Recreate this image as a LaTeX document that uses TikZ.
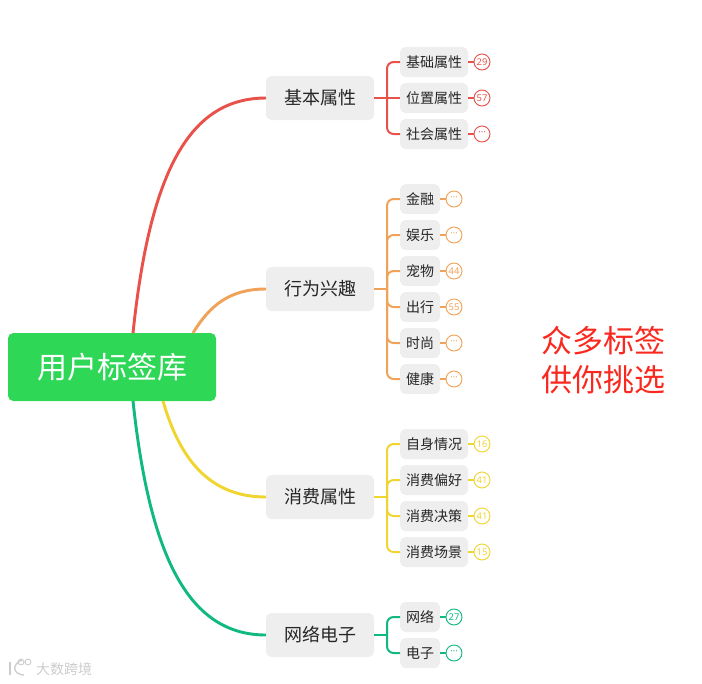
\documentclass[tikz,border=0pt]{standalone}
\usepackage{fontspec}
\setmainfont{Noto Sans CJK SC}
\newfontfamily\badgefont{Noto Sans}
\usetikzlibrary{positioning}
\definecolor{mapred}{HTML}{E8524A}
\definecolor{maporange}{HTML}{F0A358}
\definecolor{mapyellow}{HTML}{F0D531}
\definecolor{mapgreen}{HTML}{10B97F}
\definecolor{mapleaf}{HTML}{EEEEEE}
\definecolor{maproot}{HTML}{2ED755}
\definecolor{mapnote}{HTML}{F9291F}
\begin{document}
\begin{tikzpicture}[x=0.75pt,y=-0.75pt,node distance=4.5pt,outer sep=0pt,
    rootbox/.style={fill=maproot,text=white,rounded corners=4pt,minimum width=156pt,minimum height=51pt,font=\fontsize{22.5}{26}\selectfont},
    mid/.style={fill=mapleaf,rounded corners=4pt,minimum width=81pt,minimum height=33pt,inner sep=0pt,text=black!85,font=\fontsize{13.5}{16}\selectfont},
    leaf/.style={fill=mapleaf,rounded corners=4pt,minimum height=22.5pt,inner xsep=4.5pt,inner ysep=0pt,text=black!85,font=\fontsize{10.5}{12}\selectfont},
    under/.style={below=of #1.south west,anchor=north west},
    badge/.style={circle,draw=#1,fill=white,text=#1,line width=0.7pt,minimum size=12pt,inner sep=0pt,font=\badgefont\fontsize{7}{8}\selectfont},
    curve/.style={line width=2.2pt,#1},
    twig/.style={line width=1.5pt,rounded corners=5pt,#1}]
    \useasboundingbox (0,0) rectangle (702,683);
    % root and its four exits
    \node[rootbox] (root) at (112,367) {用户标签库};
    \coordinate (ra) at (133,333);
    \coordinate (rb) at (193,333);
    \coordinate (rc) at (163,401);
    \coordinate (rd) at (133,401);
    \node[mid] (ma) at (320,98) {基本属性};
    \node[mid] (mb) at (320,289) {行为兴趣};
    \node[mid] (mc) at (320,497) {消费属性};
    \node[mid] (md) at (320,635) {网络电子};
    \draw[curve=mapred] (ra) .. controls (150,170) and (190,98) .. (ma.west);
    \draw[curve=maporange] (rb) .. controls (210,305) and (230,289) .. (mb.west);
    \draw[curve=mapyellow] (rc) .. controls (180,460) and (210,497) .. (mc.west);
    \draw[curve=mapgreen] (rd) .. controls (150,560) and (190,635) .. (md.west);
    % first group
    \node[leaf,anchor=west] (a1) at (400,62) {基础属性};
    \node[leaf,under=a1] (a2) {位置属性};
    \node[leaf,under=a2] (a3) {社会属性};
    \node[badge=mapred,right=of a1] (ba1) {29};
    \node[badge=mapred,right=of a2] (ba2) {57};
    \node[badge=mapred,right=of a3] (ba3) {···};
    \coordinate (ta) at (387,98);
    \draw[twig=mapred] (ma)--(a2);
    \draw[twig=mapred] (ta)|-(a1); \draw[twig=mapred] (ta)|-(a3);
    \draw[twig=mapred] (a1)--(ba1); \draw[twig=mapred] (a2)--(ba2); \draw[twig=mapred] (a3)--(ba3);
    % second group
    \node[leaf,anchor=west] (b1) at (400,199) {金融};
    \node[leaf,under=b1] (b2) {娱乐};
    \node[leaf,under=b2] (b3) {宠物};
    \node[leaf,under=b3] (b4) {出行};
    \node[leaf,under=b4] (b5) {时尚};
    \node[leaf,under=b5] (b6) {健康};
    \node[badge=maporange,right=of b1] (bb1) {···};
    \node[badge=maporange,right=of b2] (bb2) {···};
    \node[badge=maporange,right=of b3] (bb3) {44};
    \node[badge=maporange,right=of b4] (bb4) {55};
    \node[badge=maporange,right=of b5] (bb5) {···};
    \node[badge=maporange,right=of b6] (bb6) {···};
    \coordinate (tb) at (387,289);
    \draw[twig=maporange] (mb)--(tb);
    \draw[twig=maporange] (tb)|-(b1); \draw[twig=maporange] (tb)|-(b2); \draw[twig=maporange] (tb)|-(b3);
    \draw[twig=maporange] (tb)|-(b4); \draw[twig=maporange] (tb)|-(b5); \draw[twig=maporange] (tb)|-(b6);
    \draw[twig=maporange] (b1)--(bb1); \draw[twig=maporange] (b2)--(bb2); \draw[twig=maporange] (b3)--(bb3);
    \draw[twig=maporange] (b4)--(bb4); \draw[twig=maporange] (b5)--(bb5); \draw[twig=maporange] (b6)--(bb6);
    % third group
    \node[leaf,anchor=west] (c1) at (400,444) {自身情况};
    \node[leaf,under=c1] (c2) {消费偏好};
    \node[leaf,under=c2] (c3) {消费决策};
    \node[leaf,under=c3] (c4) {消费场景};
    \node[badge=mapyellow,right=of c1] (bc1) {16};
    \node[badge=mapyellow,right=of c2] (bc2) {41};
    \node[badge=mapyellow,right=of c3] (bc3) {41};
    \node[badge=mapyellow,right=of c4] (bc4) {15};
    \coordinate (tc) at (387,497);
    \draw[twig=mapyellow] (mc)--(tc);
    \draw[twig=mapyellow] (tc)|-(c1); \draw[twig=mapyellow] (tc)|-(c2); \draw[twig=mapyellow] (tc)|-(c3); \draw[twig=mapyellow] (tc)|-(c4);
    \draw[twig=mapyellow] (c1)--(bc1); \draw[twig=mapyellow] (c2)--(bc2); \draw[twig=mapyellow] (c3)--(bc3); \draw[twig=mapyellow] (c4)--(bc4);
    % fourth group
    \node[leaf,anchor=west] (d1) at (400,617) {网络};
    \node[leaf,under=d1] (d2) {电子};
    \node[badge=mapgreen,right=of d1] (bd1) {27};
    \node[badge=mapgreen,right=of d2] (bd2) {···};
    \coordinate (td) at (387,635);
    \draw[twig=mapgreen] (md)--(td);
    \draw[twig=mapgreen] (td)|-(d1); \draw[twig=mapgreen] (td)|-(d2);
    \draw[twig=mapgreen] (d1)--(bd1); \draw[twig=mapgreen] (d2)--(bd2);
    % note and watermark
    \node[text=mapnote,align=center,font=\fontsize{23.25}{29.25}\selectfont] (note) at (603,360) {众多标签\\供你挑选};
    \node[text=black!20,font=\fontsize{10.5}{12}\selectfont] (mark) at (64,669) {大数跨境};
    \draw[black!20,line width=1pt] (10,662) -- (10,675);
    \draw[black!20,line width=1pt] (22,660) .. controls (12,664) and (12,674) .. (24,675);
    \draw[black!20,line width=0.7pt] (21,662) circle (2.2pt) (28,662) circle (2.2pt);
\end{tikzpicture}
\end{document}
